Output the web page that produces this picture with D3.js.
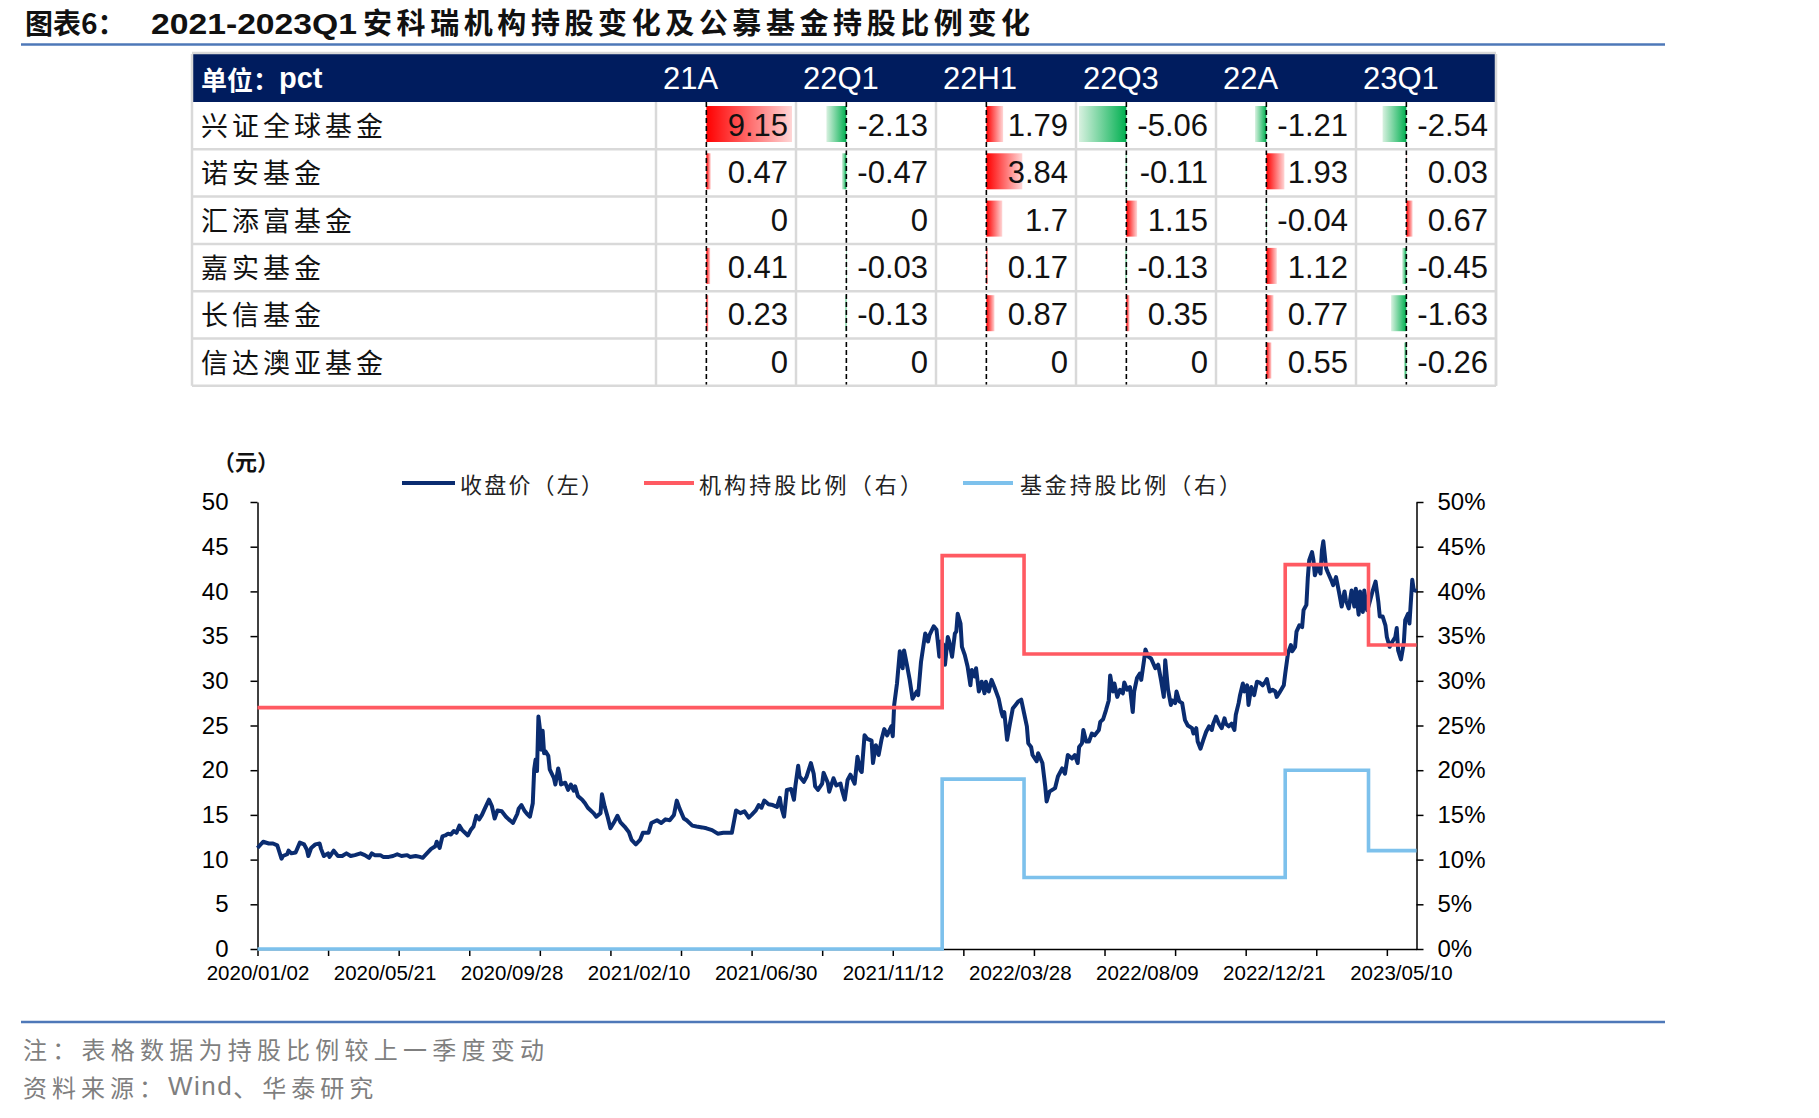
<!DOCTYPE html>
<html lang="zh">
<head>
  <meta charset="UTF-8">
  <title>安科瑞机构持股变化及公募基金持股比例变化</title>
  <script src="https://cdn.jsdelivr.net/npm/d3@7"></script>
  <style>
    html, body { margin: 0; padding: 0; background: #fff; }
    svg text { font-family: "Liberation Sans", Arial, sans-serif; }
    .cjk { font-family: "Noto Sans CJK SC", sans-serif; }
  </style>
</head>
<body>
<svg id="fig" width="1819" height="1118"></svg>
<script>
  // ---- table data (pct change vs previous report) ----
  const periods = ['21A', '22Q1', '22H1', '22Q3', '22A', '23Q1'];
  const funds = ['兴证全球基金', '诺安基金', '汇添富基金', '嘉实基金', '长信基金', '信达澳亚基金'];
  const changes = [
    [9.15, -2.13, 1.79, -5.06, -1.21, -2.54],
    [0.47, -0.47, 3.84, -0.11, 1.93, 0.03],
    [0, 0, 1.7, 1.15, -0.04, 0.67],
    [0.41, -0.03, 0.17, -0.13, 1.12, -0.45],
    [0.23, -0.13, 0.87, 0.35, 0.77, -1.63],
    [0, 0, 0, 0, 0.55, -0.26]
  ];

  // ---- chart data (x = trading-day index since 2020/01/02) ----
  const dateLabels = ['2020/01/02', '2020/05/21', '2020/09/28', '2021/02/10', '2021/06/30',
    '2021/11/12', '2022/03/28', '2022/08/09', '2022/12/21', '2023/05/10'];
  const labelEvery = 90;
  const tickEvery = 50;
  const lastDay = 821;

  // report dates where holding ratios change: start, 21A, 22Q1, 22A, 23Q1
  const stepDay = [0, 485, 543, 728, 787];
  const instPct = [27, 44, 33, 43, 34];
  const fundPct = [0, 19, 8, 20, 11];

  // closing price, [day, close]
  const closePrice = [
    [0,11.3],[4,12.0],[8,11.8],[11,11.8],[14,11.6],[15,11.1],[17,10.1],[18,10.4],[21,10.6],[22,11.0],
    [24,10.7],[27,10.8],[30,11.9],[33,11.7],[35,11.1],[36,10.4],[38,11.3],[41,11.7],[44,11.8],[45,11.2],
    [47,10.4],[50,10.7],[51,10.3],[54,11.0],[55,10.8],[57,10.4],[60,10.4],[63,10.7],[66,10.4],[69,10.5],
    [73,10.7],[76,10.5],[79,10.2],[81,10.7],[83,10.5],[87,10.5],[89,10.3],[93,10.3],[96,10.4],[99,10.6],
    [102,10.4],[106,10.5],[108,10.3],[112,10.4],[115,10.3],[117,10.2],[120,10.7],[123,11.2],[126,11.5],[127,12.0],
    [129,11.3],[131,12.6],[133,12.7],[135,12.9],[137,12.8],[139,13.2],[141,13.0],[143,13.8],[145,13.3],[147,13.0],
    [149,12.7],[151,13.3],[153,13.7],[155,14.9],[157,14.5],[159,15.0],[161,15.7],[164,16.7],[166,16.0],[168,14.6],
    [170,15.5],[173,15.4],[176,14.8],[178,14.5],[181,14.1],[184,15.1],[185,15.7],[187,16.1],[189,15.5],[191,15.1],
    [193,14.8],[195,16.3],[196,20.1],[197,21.2],[198,19.9],[199,26.0],[200,24.7],[201,22.3],[202,24.4],[203,21.9],
    [204,22.1],[206,21.6],[207,20.1],[210,19.1],[211,18.4],[213,20.2],[214,19.5],[215,18.4],[218,18.6],[220,17.8],
    [222,18.4],[224,17.7],[225,18.2],[227,17.1],[230,16.7],[232,16.3],[234,15.8],[238,15.2],[240,14.8],[243,15.2],
    [244,17.3],[246,15.9],[248,14.8],[250,13.5],[253,14.3],[255,14.9],[257,14.2],[260,13.7],[263,13.1],[265,12.2],
    [268,11.7],[271,12.2],[273,13.0],[277,13.0],[279,14.1],[283,14.4],[286,14.1],[289,14.5],[292,14.4],[295,15.0],
    [297,16.6],[299,15.7],[302,14.6],[304,14.4],[308,13.8],[311,13.7],[315,13.6],[318,13.5],[322,13.3],[326,12.9],
    [330,13.0],[336,13.0],[339,15.5],[342,15.2],[345,15.4],[348,14.7],[350,15.0],[353,15.5],[355,16.1],[357,15.8],
    [359,16.6],[362,16.2],[365,16.1],[368,15.9],[370,16.9],[371,15.9],[373,14.8],[375,17.8],[378,17.9],[380,16.7],
    [381,18.2],[383,20.5],[384,19.3],[387,18.7],[389,19.3],[392,20.8],[394,19.6],[395,18.2],[397,17.8],[400,18.5],
    [401,19.7],[404,18.6],[405,17.6],[408,19.1],[410,18.3],[413,18.5],[414,17.8],[416,16.7],[418,18.9],[420,19.5],
    [423,18.5],[425,21.5],[427,20.0],[428,19.8],[430,23.9],[432,23.5],[435,23.3],[436,20.8],[438,22.8],[440,21.7],
    [442,23.4],[444,24.6],[446,23.9],[449,24.9],[450,23.8],[451,27.3],[453,29.7],[455,33.3],[457,31.4],[458,33.4],
    [460,31.8],[462,30.1],[464,28.0],[467,28.8],[468,28.4],[470,32.1],[473,35.3],[475,34.4],[476,35.1],[479,36.1],
    [481,35.7],[483,32.7],[484,34.4],[486,34.0],[487,31.8],[489,34.9],[490,34.4],[492,32.7],[494,35.3],[495,35.5],
    [496,37.5],[498,36.4],[499,33.8],[501,32.9],[503,31.6],[505,29.5],[506,31.2],[508,30.5],[509,31.4],[511,28.8],
    [513,29.9],[515,28.6],[516,29.9],[518,28.8],[520,30.1],[522,29.3],[525,28.0],[527,26.5],[528,26.0],[529,26.5],
    [531,23.4],[533,25.2],[535,26.9],[537,27.3],[539,27.7],[541,27.9],[543,26.4],[545,24.9],[546,23.0],[548,22.6],
    [549,21.7],[552,21.0],[553,21.9],[556,20.8],[558,18.2],[559,16.5],[561,17.6],[565,18.0],[567,19.3],[570,20.2],
    [572,19.6],[574,21.7],[577,21.3],[579,21.7],[581,20.8],[582,22.6],[584,23.0],[585,24.5],[587,23.2],[589,23.2],
    [591,24.1],[593,23.9],[596,24.5],[597,25.4],[599,25.7],[601,26.7],[603,27.8],[604,30.6],[606,28.8],[607,29.7],
    [609,28.2],[611,29.0],[613,28.6],[614,29.8],[616,29.0],[618,29.3],[620,26.5],[621,28.8],[623,30.3],[625,30.8],
    [626,30.1],[628,32.3],[629,33.5],[631,32.7],[633,32.5],[636,31.4],[638,31.8],[640,30.1],[642,28.2],[643,32.3],
    [645,29.0],[647,27.3],[648,27.8],[650,27.5],[651,28.8],[653,27.7],[655,27.5],[657,25.6],[659,25.0],[662,24.7],
    [663,24.1],[665,24.7],[666,23.2],[668,22.4],[670,23.4],[672,24.3],[674,24.9],[676,24.5],[677,25.2],[679,26.0],
    [681,25.2],[683,24.7],[685,25.8],[686,25.2],[688,24.9],[690,25.2],[692,24.5],[693,26.2],[695,27.5],[696,28.4],
    [698,29.7],[699,28.8],[701,29.5],[702,27.3],[704,29.3],[706,28.4],[708,29.9],[710,29.8],[712,29.5],[714,29.9],
    [715,30.2],[717,28.8],[719,29.0],[721,28.8],[722,28.2],[724,28.7],[727,29.5],[728,30.8],[730,33.1],[732,34.0],
    [733,33.3],[735,33.8],[736,35.5],[738,36.2],[740,36.0],[741,37.9],[743,38.5],[744,41.5],[745,43.5],[747,44.4],
    [748,43.5],[749,41.8],[751,42.8],[753,42.0],[754,44.6],[755,45.6],[757,42.6],[758,42.2],[761,41.1],[762,40.7],
    [764,41.6],[766,40.0],[768,38.3],[770,40.0],[771,39.0],[773,38.1],[775,40.1],[777,38.3],[778,40.3],[780,37.4],
    [781,40.0],[783,37.7],[784,40.1],[786,37.9],[787,38.3],[790,40.1],[792,41.1],[794,38.8],[795,37.2],[797,37.2],
    [799,36.2],[800,34.9],[802,33.8],[804,34.4],[806,34.9],[807,35.9],[808,33.4],[810,32.4],[812,34.2],[813,36.8],
    [815,37.5],[816,36.4],[818,41.3],[819,40.2],[821,40.0]
  ];

  const svg = d3.select('#fig');
  const NAVY = '#0A2C70', RED = '#FF5A62', SKY = '#7DC1EC';

  // ---- title ----
  const title = svg.append('text').attr('y', 34).attr('font-weight', 'bold').attr('fill', '#111');
  title.append('tspan').attr('class', 'cjk').attr('x', 25).attr('font-size', 28).text('图表6：');
  title.append('tspan').attr('x', 151).attr('font-size', 29).attr('textLength', 206)
    .attr('lengthAdjust', 'spacingAndGlyphs').text('2021-2023Q1');
  title.append('tspan').attr('class', 'cjk').attr('x', 363).attr('font-size', 29)
    .attr('textLength', 667).attr('lengthAdjust', 'spacing').text('安科瑞机构持股变化及公募基金持股比例变化');

  svg.append('line').attr('x1', 21).attr('x2', 1665).attr('y1', 44.5).attr('y2', 44.5)
    .attr('stroke', '#4E78B8').attr('stroke-width', 2.5);

  // ---- table ----
  const tLeft = 192, nameRight = 656, colW = 140, headTop = 54, headH = 48, rowH = 47.3;
  const tRight = nameRight + colW * periods.length;
  const bodyTop = headTop + headH, bodyBottom = bodyTop + rowH * funds.length;
  const colX = j => nameRight + j * colW;
  const rowY = i => bodyTop + i * rowH;

  const flat = changes.flat();
  const barX = d3.scaleLinear().domain([d3.min(flat), d3.max(flat)]).range([3, colW - 4]);
  const zeroX = barX(0);

  const defs = svg.append('defs');
  const gp = defs.append('linearGradient').attr('id', 'gPos');
  gp.append('stop').attr('offset', 0).attr('stop-color', '#FF0000');
  gp.append('stop').attr('offset', 1).attr('stop-color', '#FFD6D6');
  const gn = defs.append('linearGradient').attr('id', 'gNeg');
  gn.append('stop').attr('offset', 0).attr('stop-color', '#D8F1E0');
  gn.append('stop').attr('offset', 1).attr('stop-color', '#00B050');

  svg.append('rect').attr('x', tLeft).attr('y', headTop).attr('width', tRight - tLeft)
    .attr('height', headH).attr('fill', '#001C5E');

  const tbl = svg.append('g');
  const cells = [];
  changes.forEach((row, i) => row.forEach((v, j) => cells.push({ i, j, v })));

  tbl.selectAll('rect.bar').data(cells.filter(c => c.v !== 0)).enter().append('rect')
    .attr('class', 'bar')
    .attr('x', c => colX(c.j) + Math.min(barX(c.v), zeroX))
    .attr('y', c => rowY(c.i) + 4)
    .attr('width', c => Math.abs(barX(c.v) - zeroX))
    .attr('height', 36)
    .attr('fill', c => c.v > 0 ? 'url(#gPos)' : 'url(#gNeg)');

  tbl.selectAll('line.zero').data(periods).enter().append('line')
    .attr('x1', (d, j) => colX(j) + zeroX).attr('x2', (d, j) => colX(j) + zeroX)
    .attr('y1', bodyTop).attr('y2', bodyBottom)
    .attr('stroke', '#000').attr('stroke-width', 1.6).attr('stroke-dasharray', '5,3');

  // grid
  const grid = tbl.append('g').attr('stroke', '#D9D9D9').attr('stroke-width', 2.5);
  grid.selectAll('line.h').data(d3.range(1, funds.length + 1)).enter().append('line')
    .attr('x1', tLeft).attr('x2', tRight).attr('y1', i => rowY(i)).attr('y2', i => rowY(i));
  grid.selectAll('line.v').data(d3.range(0, periods.length + 1)).enter().append('line')
    .attr('x1', j => colX(j)).attr('x2', j => colX(j)).attr('y1', bodyTop).attr('y2', bodyBottom);
  grid.append('line').attr('x1', tLeft).attr('x2', tLeft).attr('y1', headTop).attr('y2', bodyBottom);
  grid.append('line').attr('x1', tLeft).attr('x2', tRight).attr('y1', headTop - 1).attr('y2', headTop - 1);
  grid.append('line').attr('x1', tRight).attr('x2', tRight).attr('y1', headTop).attr('y2', bodyBottom);

  // header text
  const unit = tbl.append('text').attr('x', 201).attr('y', headTop + headH / 2)
    .attr('dominant-baseline', 'central').attr('fill', '#fff').attr('font-weight', 'bold');
  unit.append('tspan').attr('class', 'cjk').attr('font-size', 26).text('单位：');
  unit.append('tspan').attr('font-size', 29).text('pct');

  tbl.selectAll('text.per').data(periods).enter().append('text')
    .attr('x', (d, j) => colX(j) + 7).attr('y', headTop + headH / 2)
    .attr('dominant-baseline', 'central').attr('fill', '#fff').attr('font-size', 31)
    .text(d => d);

  tbl.selectAll('text.name').data(funds).enter().append('text')
    .attr('class', 'cjk').attr('x', 201).attr('y', (d, i) => rowY(i) + rowH / 2 - 1)
    .attr('dominant-baseline', 'central').attr('font-size', 27).attr('letter-spacing', 4)
    .attr('fill', '#111').text(d => d);

  tbl.selectAll('text.val').data(cells).enter().append('text')
    .attr('x', c => colX(c.j + 1) - 8).attr('y', c => rowY(c.i) + rowH / 2)
    .attr('dominant-baseline', 'central').attr('text-anchor', 'end')
    .attr('font-size', 31).attr('fill', '#111').text(c => String(c.v));

  // ---- chart ----
  const x = d3.scaleLinear().domain([0, lastDay]).range([257.5, 1416.5]);
  const yL = d3.scaleLinear().domain([0, 50]).range([949, 502]);
  const yR = d3.scaleLinear().domain([0, 50]).range([949, 502]);

  const styleAxis = g => {
    g.select('.domain').attr('stroke', '#000').attr('stroke-width', 1.5);
    g.selectAll('.tick line').attr('stroke', '#000').attr('stroke-width', 1.5);
    g.selectAll('.tick text').attr('fill', '#000').attr('font-family', '"Liberation Sans", Arial, sans-serif');
  };

  svg.append('g').attr('transform', 'translate(0,949)')
    .call(d3.axisBottom(x).tickValues(d3.range(0, lastDay, tickEvery)).tickFormat('').tickSize(7).tickSizeOuter(0))
    .call(styleAxis);
  svg.append('g').attr('transform', 'translate(0,949)')
    .call(d3.axisBottom(x).tickValues(dateLabels.map((d, i) => i * labelEvery))
      .tickFormat((d, i) => dateLabels[i]).tickSize(0).tickPadding(16))
    .call(g => g.select('.domain').remove())
    .call(styleAxis)
    .selectAll('.tick text').attr('font-size', 20.5);

  svg.append('g').attr('transform', 'translate(257.5,0)')
    .call(d3.axisLeft(yL).tickValues(d3.range(0, 51, 5)).tickSize(7).tickPadding(22).tickSizeOuter(0))
    .call(styleAxis)
    .selectAll('.tick text').attr('font-size', 24);
  svg.append('g').attr('transform', 'translate(1416.5,0)')
    .call(d3.axisRight(yR).tickValues(d3.range(0, 51, 5)).tickFormat(d => d + '%')
      .tickSize(7).tickPadding(14).tickSizeOuter(0))
    .call(styleAxis)
    .selectAll('.tick text').attr('font-size', 24);

  const priceLine = d3.line().x(d => x(d[0])).y(d => yL(d[1]));
  svg.append('path').datum(closePrice).attr('d', priceLine)
    .attr('fill', 'none').attr('stroke', NAVY).attr('stroke-width', 4).attr('stroke-linejoin', 'round');

  const stepLine = d3.line().x(d => x(d[0])).y(d => yR(d[1])).curve(d3.curveStepAfter);
  const stepData = pct => stepDay.map((d, i) => [d, pct[i]]).concat([[lastDay, pct[pct.length - 1]]]);
  svg.append('path').datum(stepData(fundPct)).attr('d', stepLine)
    .attr('fill', 'none').attr('stroke', SKY).attr('stroke-width', 3.6);
  svg.append('path').datum(stepData(instPct)).attr('d', stepLine)
    .attr('fill', 'none').attr('stroke', RED).attr('stroke-width', 3.6);

  svg.append('text').attr('class', 'cjk').attr('x', 213).attr('y', 460)
    .attr('dominant-baseline', 'central').attr('font-size', 22).attr('font-weight', 'bold')
    .attr('fill', '#111').text('（元）');

  // legend
  const legend = [
    { name: '收盘价（左）', color: NAVY, x0: 402, x1: 455, tx: 460, tw: 143 },
    { name: '机构持股比例（右）', color: RED, x0: 644, x1: 694, tx: 699, tw: 223 },
    { name: '基金持股比例（右）', color: SKY, x0: 963, x1: 1013, tx: 1020, tw: 221 }
  ];
  const lg = svg.append('g').selectAll('g').data(legend).enter().append('g');
  lg.append('line').attr('x1', d => d.x0).attr('x2', d => d.x1).attr('y1', 483).attr('y2', 483)
    .attr('stroke', d => d.color).attr('stroke-width', 4);
  lg.append('text').attr('class', 'cjk').attr('x', d => d.tx).attr('y', 483)
    .attr('dominant-baseline', 'central').attr('font-size', 22).attr('fill', '#222')
    .attr('textLength', d => d.tw).attr('lengthAdjust', 'spacing').text(d => d.name);

  // ---- footnotes ----
  svg.append('line').attr('x1', 21).attr('x2', 1665).attr('y1', 1022).attr('y2', 1022)
    .attr('stroke', '#4E78B8').attr('stroke-width', 2.5);
  svg.append('text').attr('class', 'cjk').attr('x', 23).attr('y', 1048)
    .attr('dominant-baseline', 'central').attr('font-size', 24).attr('fill', '#7F7F7F')
    .attr('textLength', 521).attr('lengthAdjust', 'spacing').text('注：表格数据为持股比例较上一季度变动');
  const src = svg.append('text').attr('x', 23).attr('y', 1086)
    .attr('dominant-baseline', 'central').attr('font-size', 24).attr('fill', '#7F7F7F')
    .attr('letter-spacing', 5);
  src.append('tspan').attr('class', 'cjk').text('资料来源：');
  src.append('tspan').attr('font-size', 26).attr('letter-spacing', 1.5).text('Wind');
  src.append('tspan').attr('class', 'cjk').text('、华泰研究');
</script>
</body>
</html>
